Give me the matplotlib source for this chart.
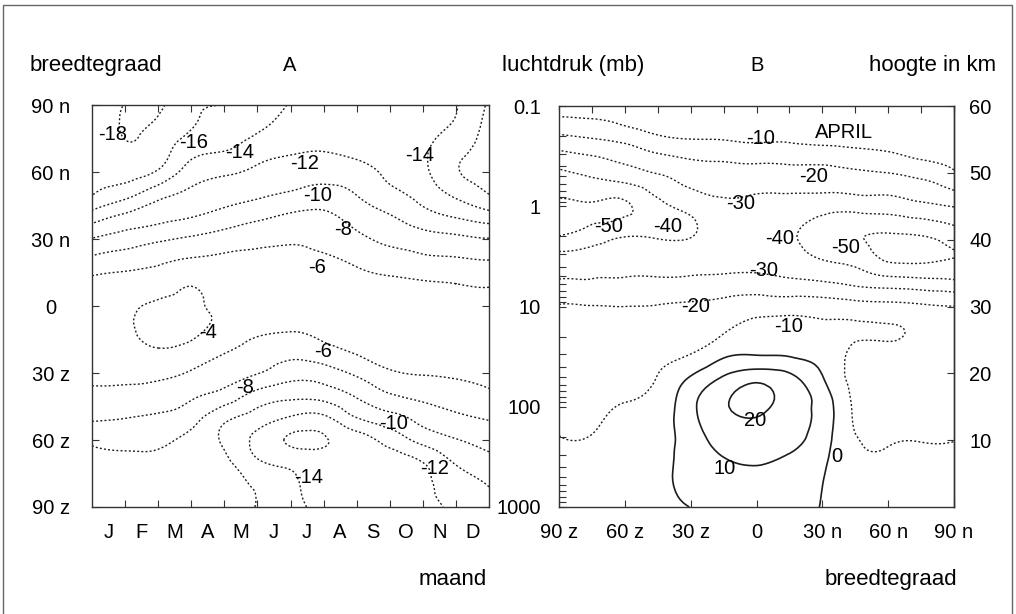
import numpy as np
import matplotlib
matplotlib.use('Agg')
import matplotlib.pyplot as plt
import matplotlib.tri as mtri
from matplotlib.patches import Rectangle
from matplotlib.ticker import LogLocator, NullFormatter, NullLocator, FixedLocator, FixedFormatter

plt.rcParams['font.family'] = ['Liberation Sans', 'DejaVu Sans']

# ---------------- A: temperatuur per maand en breedtegraad ----------------
months = np.arange(13)                 # maandgrenzen, 0 = begin januari
month_labels = ['J', 'F', 'M', 'A', 'M', 'J', 'J', 'A', 'S', 'O', 'N', 'D']
lat_a = np.arange(90, -91, -10)        # rijen van 90 n naar 90 z
temp_a = np.array([
    [-17.6, -18.05, -18.3, -16.5, -16.0, -15.2, -13.9, -13.5, -13.3, -13.0, -13.2, -13.9, -16.3],
    [-17.4, -18.1, -17.7, -16.1, -15.0, -14.3, -13.3, -13.0, -13.0, -12.8, -13.5, -14.3, -16.8],
    [-17.1, -17.8, -17.0, -14.7, -14.1, -13.0, -12.3, -12.1, -12.5, -12.6, -13.7, -15.3, -17.0],
    [-16.6, -16.9, -15.75, -13.1, -12.3, -11.6, -11.1, -10.8, -11.24, -12.4, -13.6, -15.8, -16.8],
    [-16.1, -14.7, -12.7, -11.57, -10.9, -10.35, -9.73, -9.24, -10.05, -11.4, -12.7, -14.4, -16.0],
    [-13.0, -11.55, -10.65, -10.07, -9.2, -8.4, -7.66, -7.57, -8.77, -9.85, -11.2, -12.13, -13.05],
    [-9.9, -9.1, -8.35, -7.68, -7.1, -6.6, -6.25, -6.6, -7.53, -8.47, -9.15, -9.52, -9.9],
    [-7.4, -6.8, -6.25, -5.7, -5.6, -5.4, -5.4, -5.6, -6.3, -6.94, -7.45, -7.67, -7.9],
    [-5.5, -5.3, -5.0, -4.1, -5.0, -4.9, -5.0, -5.0, -5.3, -5.6, -5.8, -6.0, -6.2],
    [-5.2, -4.4, -3.7, -3.7, -4.4, -4.8, -5.0, -5.0, -5.0, -5.1, -5.2, -5.3, -5.4],
    [-5.1, -4.2, -3.6, -3.6, -4.6, -5.5, -5.8, -5.5, -5.3, -5.2, -5.2, -5.2, -5.2],
    [-5.3, -4.6, -4.1, -4.6, -5.8, -6.7, -7.25, -6.6, -5.8, -5.5, -5.4, -5.4, -5.3],
    [-5.6, -5.4, -5.5, -6.2, -7.1, -7.9, -9.15, -8.95, -7.6, -6.2, -5.9, -5.8, -5.6],
    [-6.4, -6.6, -6.86, -7.7, -8.74, -10.73, -11.5, -11.2, -9.8, -8.2, -7.4, -6.83, -6.3],
    [-7.7, -7.96, -8.27, -9.2, -11.5, -12.87, -14.2, -14.4, -12.0, -10.67, -9.33, -8.41, -7.8],
    [-9.7, -9.3, -9.5, -10.6, -12.3, -14.6, -16.2, -16.15, -15.0, -13.25, -11.33, -10.1, -9.3],
    [-10.4, -10.5, -10.5, -11.0, -11.6, -13.7, -14.6, -15.3, -15.2, -15.0, -14.0, -11.8, -10.6],
    [-10.8, -10.6, -10.6, -11.2, -11.3, -12.3, -13.6, -14.8, -15.2, -15.6, -14.4, -13.2, -11.9],
    [-11.0, -10.8, -10.8, -11.3, -11.2, -12.1, -13.3, -14.6, -15.0, -15.5, -14.7, -13.6, -12.6],
])
levels_a = [-18, -16, -14, -12, -10, -8, -6, -4]
lat_ticks_a = [90, 60, 30, 0, -30, -60, -90]
lat_tick_labels_a = ['90 n', '60 n', '30 n', '0', '30 z', '60 z', '90 z']
labels_a = [-18, -16, -14, -12, -14, -10, -8, -6, -4, -6, -8, -10, -12, -14]

# ---------------- B: temperatuur per breedtegraad en luchtdruk (april) ----------------
lat_b = np.arange(-90, 91, 15)
pressure_levels = np.array([1000, 500, 300, 200, 100, 50, 30, 20, 10, 5, 3, 2, 1, 0.5, 0.3, 0.2, 0.1])
temp_b = np.array([
    [-5.5, -5.2, -3.5, -1.5, 0.1, 3, 5, 4, -0.5, -5, -7, -7, -8],
    [-7, -6.8, -4.5, -2, 3, 7, 8.5, 7, 0.5, -6.5, -8, -8, -8.5],
    [-8.5, -8.3, -6, -3, 4, 10.5, 11.2, 9.8, 2.5, -8, -9.3, -9.2, -9.3],
    [-9.9, -9.8, -7, -4, 5, 14, 14, 12.8, 4.5, -9.5, -11, -10.4, -10.3],
    [-12.0, -12.1, -9.5, -6.5, 7.5, 18.5, 23, 15, 6, -11.5, -12.5, -12.3, -12.4],
    [-14.2, -14.4, -12.7, -9.8, 0.3, 10.4, 16, 12, 0.3, -13, -13, -13, -13.2],
    [-15.9, -16.0, -15.0, -12.9, -9.9, -2.1, -0.5, -1.2, -3.7, -12, -12, -12.5, -13.5],
    [-17.2, -17.4, -16.9, -15.4, -13, -9.3, -4.9, -5.2, -6.7, -9.2, -9.3, -11.5, -14],
    [-19.4, -19.7, -20, -19.5, -18.2, -16.9, -14.7, -14.3, -14.8, -16.1, -17.1, -18.5, -19.8],
    [-31.1, -30.7, -30.3, -30.2, -29.8, -29.0, -28.4, -30.7, -32.9, -35.8, -40, -41.4, -42.5],
    [-38.6, -36.6, -35.6, -35.3, -35.7, -35.5, -36.5, -37, -42, -45, -53, -53, -50.3],
    [-49.7, -45, -40.2, -40.8, -40.3, -36.7, -38, -39, -45, -49.5, -51.5, -50.4, -45.3],
    [-52, -51, -51.5, -42.5, -37, -32, -33.5, -34, -36, -36.2, -35.5, -32.4, -29.6],
    [-43.1, -39.4, -35.6, -31, -25.7, -24.7, -24.3, -24.2, -24, -22.7, -21.5, -18.6, -12.5],
    [-32.1, -29.1, -25.8, -20.3, -17.7, -16.6, -15.8, -15.2, -14.6, -12.8, -11, -7.5, -6],
    [-21.2, -18.7, -15.4, -10.5, -8.6, -8.5, -7, -7.5, -6, -5.5, -5, -4.5, -4.5],
    [-5, -5, -4.5, -4, -4, -4, -4, -4, -4, -4, -4, -4, -4],
])
levels_b_neg = [-50, -40, -30, -20, -10]
levels_b_pos = [0, 10, 20]
pressure_ticks = [0.1, 1, 10, 100, 1000]
pressure_tick_labels = ['0.1', '1', '10', '100', '1000']
height_ticks = [10, 20, 30, 40, 50, 60]
height_tick_labels = ['10', '20', '30', '40', '50', '60']
lat_ticks_b = [-90, -60, -30, 0, 30, 60, 90]
lat_tick_labels_b = ['90 z', '60 z', '30 z', '0', '30 n', '60 n', '90 n']
labels_b = [-10, -20, -30, -50, -40, -40, -50, -30, -20, -10, 20, 10, 0]

# plaats van de isolijn-getallen (maand, breedte) resp. (breedte, mb)
pos_a = [(0.63, 76.6), (3.06, 73.3), (4.47, 68.8), (6.41, 64.0), (9.89, 67.3),
         (6.82, 49.4), (7.6, 34.2), (6.79, 17.3), (3.52, -11.8), (6.99, -20.5),
         (4.62, -36.4), (9.11, -52.4), (10.34, -72.7), (6.56, -76.7)]
pos_b = [(1.8, 0.209), (26, 0.501), (-7.4, 0.94), (-67.5, 1.61), (-40.4, 1.61),
         (10.5, 2.12), (40.4, 2.55), (3.2, 4.37), (-27.7, 10.0), (14.6, 15.8),
         (-0.6, 136), (-14.6, 410), (36.6, 316)]

W, H = 1016, 614
FS = 14.5
INK = '#1c1c1c'
DOT = (0, (1.4, 1.6))


def verfijn(x, y, z, subdiv=3):
    # gladde isolijnen: rooster verfijnen met de kubische interpolatie van matplotlib
    X, Y = np.meshgrid(x, y)
    x0, sx = X.min(), np.ptp(X)
    y0, sy = Y.min(), np.ptp(Y)
    grof = mtri.Triangulation(((X - x0) / sx).ravel(), ((Y - y0) / sy).ravel())
    fijn, zf = mtri.UniformTriRefiner(grof).refine_field(np.ravel(z), subdiv=subdiv)
    return fijn.x * sx + x0, fijn.y * sy + y0, fijn.triangles, zf


def p_naar_km(p):
    return 15 * np.log10(1000 / np.clip(p, 1e-9, None))


def km_naar_p(h):
    return 1000 * 10 ** (-np.asarray(h) / 15)


def stijl(ax):
    for s in ax.spines.values():
        s.set_color('#333333')
        s.set_linewidth(1.0)


fig = plt.figure(figsize=(W / 100, H / 100), dpi=100)

# ---------- paneel A ----------
axA = fig.add_axes([92 / W, 1 - 507 / H, 397 / W, 402 / H])
stijl(axA)
xa, ya, tra, za = verfijn(months, lat_a, temp_a)
axA.tricontour(mtri.Triangulation(xa, ya, tra), za, levels=levels_a,
               colors=INK, linewidths=1.0, linestyles=[DOT])
axA.set_xlim(0, 12)
axA.set_ylim(-90, 90)
axA.set_xticks(np.arange(12) + 0.5, month_labels)
axA.set_xticks(np.arange(1, 12), minor=True)
axA.tick_params(axis='x', which='major', length=0, pad=11.5, labelsize=FS)
axA.tick_params(axis='x', which='minor', direction='in', top=True, bottom=True,
                length=5, width=0.8, color='#333333')
axA.set_yticks(lat_ticks_a, lat_tick_labels_a)
axA.tick_params(axis='y', direction='in', left=True, right=True, length=5,
                width=0.8, color='#333333', pad=29.5, labelsize=FS)
for t in axA.get_yticklabels():
    t.set_horizontalalignment('center')
for v, (mx, my) in zip(labels_a, pos_a):
    axA.text(mx, my, str(v), ha='center', va='center', fontsize=FS, color='black')

# ---------- paneel B ----------
axB = fig.add_axes([559 / W, 1 - 507 / H, 395 / W, 401 / H])
stijl(axB)
xb, yb, trb, zb = verfijn(lat_b, np.log10(pressure_levels), temp_b)
tri_b = mtri.Triangulation(xb, 10 ** yb, trb)
axB.tricontour(tri_b, zb, levels=levels_b_neg, colors=INK, linewidths=1.0,
               linestyles=[DOT])
axB.tricontour(tri_b, zb, levels=levels_b_pos, colors=INK, linewidths=1.2,
               linestyles='solid')
axB.set_yscale('log')
axB.set_xlim(-90, 90)
axB.set_ylim(1000, 0.1)
axB.set_xticks(lat_ticks_b, lat_tick_labels_b)
axB.set_xticks(np.arange(-75, 90, 30), minor=True)
axB.tick_params(axis='x', which='major', direction='in', top=True, bottom=True,
                length=5, width=0.8, color='#333333', pad=11.5, labelsize=FS)
axB.tick_params(axis='x', which='minor', direction='in', top=True, bottom=False,
                length=5, width=0.8, color='#333333')
axB.set_yticks(pressure_ticks, pressure_tick_labels)
axB.yaxis.set_minor_locator(LogLocator(base=10, subs=np.arange(2, 10)))
axB.yaxis.set_minor_formatter(NullFormatter())
axB.tick_params(axis='y', which='both', direction='in', left=True, right=False,
                length=5, width=0.8, color='#333333')
axB.tick_params(axis='y', which='major', pad=13, labelsize=FS)

# rechter as: hoogte in km
sec = axB.secondary_yaxis('right', functions=(p_naar_km, km_naar_p))
sec.yaxis.set_major_locator(FixedLocator(height_ticks))
sec.yaxis.set_major_formatter(FixedFormatter(height_tick_labels))
sec.yaxis.set_minor_locator(NullLocator())
sec.tick_params(direction='in', length=5, width=0.8, color='#333333', pad=11,
                labelsize=FS)
for s in sec.spines.values():
    s.set_color('#333333')
    s.set_linewidth(1.0)

for v, (bx, by) in zip(labels_b, pos_b):
    axB.text(bx, by, str(v), ha='center', va='center', fontsize=FS, color='black')
axB.text(40, 0.182, 'APRIL', ha='center', va='center', fontsize=FS, color='black')

# ---------- koppen en aslabels ----------
def ftxt(x, y, s, **kw):
    fig.text(x / W, 1 - y / H, s, va='baseline', color='black', **kw)

ftxt(30, 71, 'breedtegraad', ha='left', fontsize=16)
ftxt(290, 71, 'A', ha='center', fontsize=FS)
ftxt(502, 71, 'luchtdruk (mb)', ha='left', fontsize=16)
ftxt(757, 71, 'B', ha='center', fontsize=FS)
ftxt(996, 71, 'hoogte in km', ha='right', fontsize=16)
ftxt(487, 585, 'maand', ha='right', fontsize=16)
ftxt(957, 585, 'breedtegraad', ha='right', fontsize=16)

# kader rond de hele figuur
fig.patches.append(Rectangle((3 / W, -0.05), 1009 / W, 1.05 - 5 / H,
                             transform=fig.transFigure, fill=False,
                             lw=1.0, ec='#666666'))

fig.savefig('out.png', dpi=100)
